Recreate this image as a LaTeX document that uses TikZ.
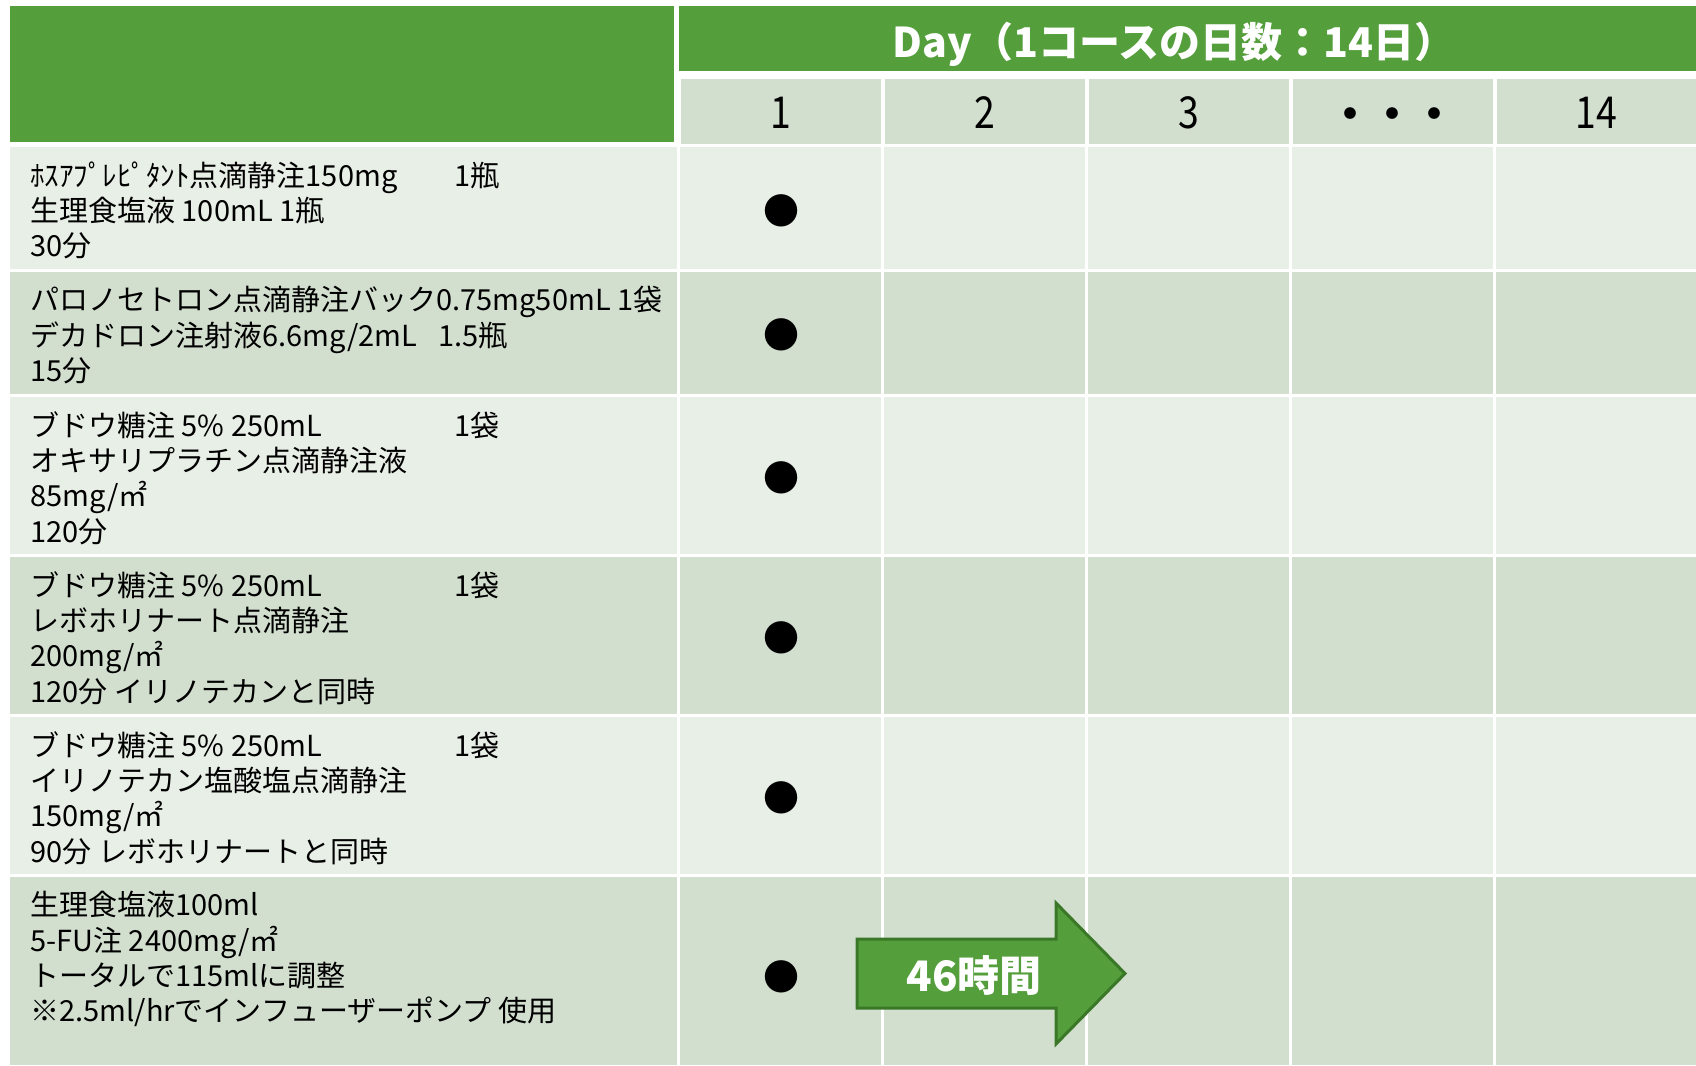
\documentclass[tikz,border=0pt]{standalone}
\usepackage{fontspec}
\setmainfont{Noto Sans CJK JP}
\newfontfamily\narrowfont{Noto Sans CJK JP}[FakeStretch=0.85]
\usepackage{tikz}
\usetikzlibrary{positioning}
\definecolor{hdgreen}{RGB}{84,158,59}
\definecolor{hdborder}{RGB}{58,120,40}
\definecolor{rowlight}{RGB}{232,239,230}
\definecolor{rowdark}{RGB}{210,223,207}
\newcommand{\padto}[2]{\makebox[#1][l]{#2}}

\begin{document}
\begin{tikzpicture}[x=0.5pt,y=-0.5pt,
    drug/.style={anchor=north west,inner sep=0pt,align=left,
        font=\fontsize{14.5}{17.65}\selectfont},
    daynum/.style={inner sep=0pt,font=\narrowfont\fontsize{22}{22}\selectfont},
    dose/.style={inner sep=0pt,font=\fontsize{18}{18}\selectfont},
    headtext/.style={inner sep=0pt,text=white,font=\bfseries\fontsize{20.5}{20.5}\selectfont}]
    \useasboundingbox (0,0) rectangle (1696,1065);
    \fill[hdgreen] (10,6) rectangle (674,142);
    \fill[hdgreen] (679,6) rectangle (1696,71);
    \foreach \c in {0,...,4}
        \fill[rowdark] ({681+204*\c},79) rectangle ({881+204*\c},144);
    \foreach \t/\b/\col in {146.5/268.5/rowlight,271.5/394/rowdark,397/554/rowlight,
            557/714/rowdark,717/874/rowlight,877/1065/rowdark} {
        \fill[\col] (10,\t) rectangle (677,\b);
        \foreach \c in {0,...,4}
            \fill[\col] ({680+204*\c},\t) rectangle ({881+204*\c},\b);
    }
    \node[headtext] (course) at (1174,44) {Day（1コースの日数：14日）};
    \foreach \d [count=\i from 0] in {1,2,3}
        \node[daynum] (day\i) at ({780.5+204*\i},112.5) {\d};
    \node[inner sep=0pt,font=\bfseries\fontsize{21}{21}\selectfont] (day3) at (1392,119) {・・・};
    \node[daynum] (day4) at (1596,112.5) {14};
    \node[drug] (drug1) at (30,161) {\padto{212pt}{ﾎｽｱﾌﾟﾚﾋﾟﾀﾝﾄ点滴静注150mg}1瓶\\
        生理食塩液 100mL 1瓶\\30分};
    \node[drug] (drug2) at (30,286) {パロノセトロン点滴静注バック0.75mg50mL 1袋\\
        \padto{204pt}{デカドロン注射液6.6mg/2mL}1.5瓶\\15分};
    \node[drug] (drug3) at (30,411) {\padto{212pt}{ブドウ糖注 5\% 250mL}1袋\\
        オキサリプラチン点滴静注液\\85mg/㎡\\120分};
    \node[drug] (drug4) at (30,571) {\padto{212pt}{ブドウ糖注 5\% 250mL}1袋\\
        レボホリナート点滴静注\\200mg/㎡\\120分 イリノテカンと同時};
    \node[drug] (drug5) at (30,731) {\padto{212pt}{ブドウ糖注 5\% 250mL}1袋\\
        イリノテカン塩酸塩点滴静注\\150mg/㎡\\90分 レボホリナートと同時};
    \node[drug] (drug6) at (30,891) {生理食塩液100ml\\5-FU注 2400mg/㎡\\
        トータルで115mlに調整\\※2.5ml/hrでインフューザーポンプ 使用};
    \foreach \y [count=\i] in {211,335,478,638,798,977}
        \node[dose] (dose\i) at (781,\y) {●};
    \draw[hdborder,fill=hdgreen,line width=1.5pt] (857,939) -- (1056,939) -- (1056,903)
        -- (1125,973.5) -- (1056,1044) -- (1056,1008) -- (857,1008) -- cycle;
    \node[headtext,font=\bfseries\fontsize{21}{21}\selectfont] (hours) at (974,976) {46時間};
\end{tikzpicture}
\end{document}
